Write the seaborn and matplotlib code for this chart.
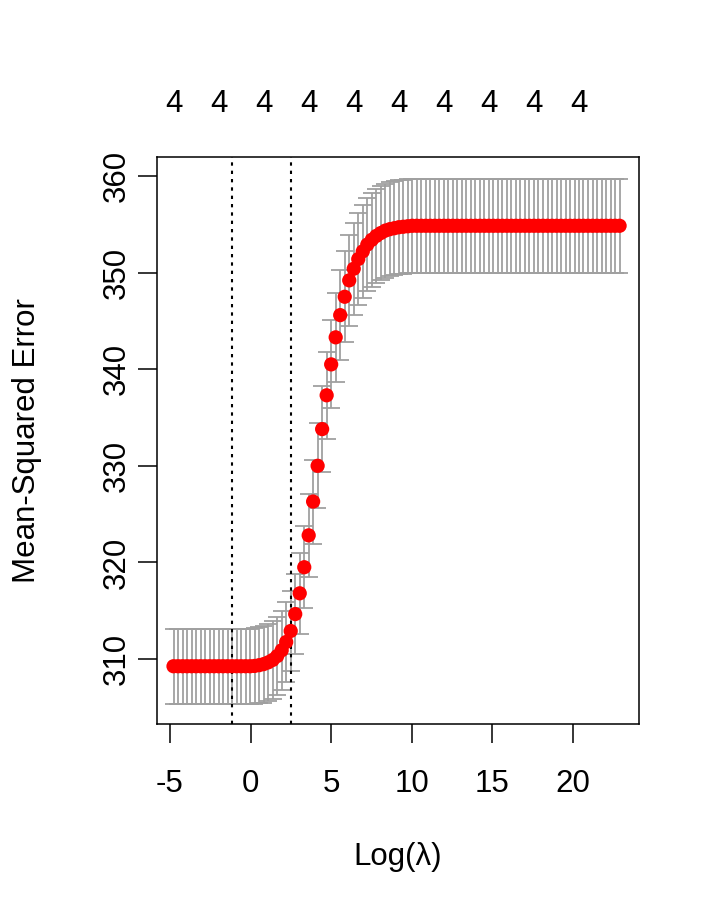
import matplotlib
matplotlib.use("Agg")
import matplotlib.pyplot as plt
import seaborn as sns
import pandas as pd

# ---- data ----
log_lambda = [
    -4.78, -4.50, -4.22, -3.94, -3.66, -3.38, -3.10, -2.82, -2.54, -2.26,
    -1.985, -1.71, -1.43, -1.15, -0.87, -0.59, -0.31, -0.03, 0.25, 0.53,
    0.81, 1.09, 1.37, 1.65, 1.93, 2.21, 2.49, 2.77, 3.05, 3.33,
    3.605, 3.88, 4.16, 4.44, 4.72, 5.00, 5.28, 5.56, 5.84, 6.12,
    6.40, 6.68, 6.96, 7.24, 7.52, 7.80, 8.08, 8.36, 8.64, 8.92,
    9.195, 9.47, 9.75, 10.03, 10.31, 10.59, 10.87, 11.15, 11.43, 11.71,
    11.99, 12.26, 12.54, 12.82, 13.10, 13.38, 13.66, 13.95, 14.23, 14.51,
    14.785, 15.06, 15.34, 15.62, 15.90, 16.18, 16.46, 16.74, 17.02, 17.30,
    17.58, 17.86, 18.14, 18.42, 18.70, 18.98, 19.26, 19.54, 19.82, 20.10,
    20.375, 20.65, 20.93, 21.21, 21.49, 21.77, 22.05, 22.33, 22.61, 22.89,
]
mse = [
    309.25, 309.25, 309.25, 309.25, 309.25, 309.25, 309.25, 309.25, 309.25, 309.25,
    309.25, 309.25, 309.25, 309.25, 309.25, 309.25, 309.25, 309.25, 309.28, 309.36,
    309.47, 309.65, 309.90, 310.30, 310.90, 311.76, 312.90, 314.65, 316.80, 319.50,
    322.80, 326.30, 330.00, 333.80, 337.30, 340.50, 343.30, 345.60, 347.50, 349.20,
    350.40, 351.40, 352.20, 352.90, 353.40, 353.80, 354.10, 354.35, 354.50, 354.60,
    354.70, 354.75, 354.80, 354.85, 354.85, 354.85, 354.85, 354.85, 354.85, 354.85,
    354.85, 354.85, 354.85, 354.85, 354.85, 354.85, 354.85, 354.85, 354.85, 354.85,
    354.85, 354.85, 354.85, 354.85, 354.85, 354.85, 354.85, 354.85, 354.85, 354.85,
    354.85, 354.85, 354.85, 354.85, 354.85, 354.85, 354.85, 354.85, 354.85, 354.85,
    354.85, 354.85, 354.85, 354.85, 354.85, 354.85, 354.85, 354.85, 354.85, 354.85,
]
se = [
    3.90, 3.90, 3.90, 3.90, 3.90, 3.90, 3.90, 3.90, 3.90, 3.90,
    3.90, 3.90, 3.90, 3.90, 3.90, 3.90, 3.90, 3.90, 3.92, 3.95,
    3.98, 4.00, 4.02, 4.05, 4.08, 4.10, 4.13, 4.17, 4.20, 4.25,
    4.30, 4.35, 4.40, 4.45, 4.50, 4.55, 4.60, 4.65, 4.70, 4.74,
    4.77, 4.80, 4.82, 4.84, 4.85, 4.86, 4.86, 4.86, 4.86, 4.86,
    4.86, 4.86, 4.86, 4.86, 4.86, 4.86, 4.86, 4.86, 4.86, 4.86,
    4.86, 4.86, 4.86, 4.86, 4.86, 4.86, 4.86, 4.86, 4.86, 4.86,
    4.86, 4.86, 4.86, 4.86, 4.86, 4.86, 4.86, 4.86, 4.86, 4.86,
    4.86, 4.86, 4.86, 4.86, 4.86, 4.86, 4.86, 4.86, 4.86, 4.86,
    4.86, 4.86, 4.86, 4.86, 4.86, 4.86, 4.86, 4.86, 4.86, 4.86,
]
top_positions = [-4.78, -1.985, 0.81, 3.605, 6.40, 9.195, 11.99, 14.785, 17.58, 20.375]
top_labels = ["4", "4", "4", "4", "4", "4", "4", "4", "4", "4"]
lambda_min = -1.15
lambda_1se = 2.49
x_ticks = [-5, 0, 5, 10, 15, 20]
y_ticks = [310, 320, 330, 340, 350, 360]

df = pd.DataFrame({"log_lambda": log_lambda, "mse": mse, "se": se})
df["upper"] = df["mse"] + df["se"]
df["lower"] = df["mse"] - df["se"]

# ---- style ----
sns.set_theme(style="white")
plt.rcParams["font.family"] = ["Liberation Sans", "DejaVu Sans"]
FS = 22.5

fig = plt.figure(figsize=(7.2, 9.21), dpi=100)
ax = fig.add_axes([0.218, 1 - 724 / 921, 0.8875 - 0.218, (724 - 157) / 921])

barw = 0.55
grey = "#A0A0A0"
ax.vlines(df["log_lambda"], df["lower"], df["upper"], color=grey, lw=1.3, zorder=1)
ax.hlines(df["upper"], df["log_lambda"] - barw, df["log_lambda"] + barw, color=grey, lw=1.3, zorder=1)
ax.hlines(df["lower"], df["log_lambda"] - barw, df["log_lambda"] + barw, color=grey, lw=1.3, zorder=1)

sns.scatterplot(data=df, x="log_lambda", y="mse", ax=ax, color="red",
                s=105, edgecolor="none", linewidth=0, zorder=3, legend=False)

ax.axvline(lambda_min, color="black", lw=1.5, linestyle=(0, (1.6, 2.4)), zorder=2)
ax.axvline(lambda_1se, color="black", lw=1.5, linestyle=(0, (1.6, 2.4)), zorder=2)

ax.set_xlim(-5.806, 24.094)
ax.set_ylim(303.27, 361.97)
ax.set_xticks(x_ticks)
ax.set_xticklabels([str(t) for t in x_ticks], fontsize=FS)
ax.set_yticks(y_ticks)
ax.set_yticklabels([str(t) for t in y_ticks], fontsize=FS, rotation=90, va="center")

for sp in ax.spines.values():
    sp.set_visible(True)
    sp.set_color("black")
    sp.set_linewidth(1.1)

ax.tick_params(axis="x", which="major", direction="out", length=14, width=1.1,
               color="black", pad=18.5, labelcolor="black", bottom=True)
ax.tick_params(axis="y", which="major", direction="out", length=14, width=1.1,
               color="black", pad=4, labelcolor="black", left=True)

ax.set_xlabel("Log(λ)", fontsize=FS, color="black", labelpad=31)
ax.set_ylabel("Mean-Squared Error", fontsize=FS, color="black", labelpad=43)

top = ax.secondary_xaxis("top")
top.set_xticks(top_positions)
top.set_xticklabels(top_labels, fontsize=FS)
top.tick_params(length=0, pad=27, labelcolor="black")
top.spines["top"].set_visible(False)

fig.savefig("out.png", dpi=100)
